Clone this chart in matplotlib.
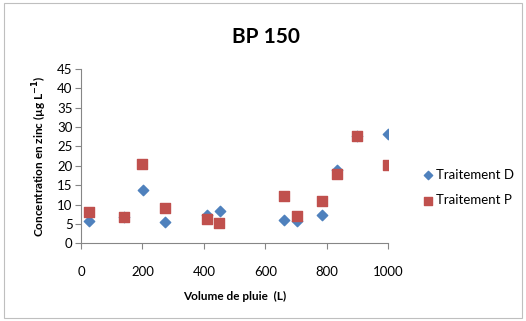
import matplotlib
matplotlib.use("Agg")
import matplotlib.pyplot as plt
from matplotlib.patches import Rectangle

plt.rcParams['font.family'] = ['Lato', 'DejaVu Sans']

# Traitement D
vol_d = [25, 139, 201, 273, 410, 451, 661, 703, 786, 832, 899, 1000]
conc_d = [5.8, 6.8, 13.7, 5.4, 7.3, 8.3, 6.0, 5.8, 7.2, 18.8, 27.6, 28.1]

# Traitement P
vol_p = [25, 139, 200, 273, 409, 449, 660, 702, 786, 832, 899, 1000]
conc_p = [8.2, 6.7, 20.6, 9.0, 6.2, 5.3, 12.1, 7.1, 11.0, 17.8, 27.6, 20.1]

x_ticks = [0, 200, 400, 600, 800, 1000]
y_ticks = [0, 5, 10, 15, 20, 25, 30, 35, 40, 45]

fig = plt.figure(figsize=(5.26, 3.21), dpi=100)
fig.patches.append(Rectangle((0.008, 0.008), 0.984, 0.984, transform=fig.transFigure,
                             fill=False, edgecolor='#bfbfbf', linewidth=0.8))
ax = fig.add_axes([0.154, 0.242, 0.584, 0.543])

ax.scatter(vol_d, conc_d, marker='D', s=28, color='#4F81BD', label='Traitement D', zorder=3)
ax.scatter(vol_p, conc_p, marker='s', s=50, color='#C0504D', label='Traitement P', zorder=3)

ax.set_xlim(0, 1000)
ax.set_ylim(0, 45)
ax.set_xticks(x_ticks)
ax.set_yticks(y_ticks)
ax.tick_params(axis='x', length=4, pad=12, color='#868686', labelsize=9.5)
ax.tick_params(axis='y', length=4, pad=2, color='#868686', labelsize=9.5)
for s in ['top', 'right']:
    ax.spines[s].set_visible(False)
for s in ['left', 'bottom']:
    ax.spines[s].set_color('#868686')

ax.set_xlabel('Volume de pluie  (L)', fontweight='bold', fontsize=8.5, labelpad=10)
ax.set_ylabel('Concentration en zinc (µg L$^{\\mathbf{-1}}$)', fontweight='bold', fontsize=8.5, labelpad=6)
fig.text(0.505, 0.885, 'BP 150', fontweight='bold', fontsize=15, ha='center', va='center')

leg = ax.legend(loc='center left', bbox_to_anchor=(1.07, 0.32), frameon=False,
                fontsize=9.5, handletextpad=0.1, labelspacing=1.0, handlelength=1,
                markerscale=0.8)

fig.savefig('out.png', dpi=100)
